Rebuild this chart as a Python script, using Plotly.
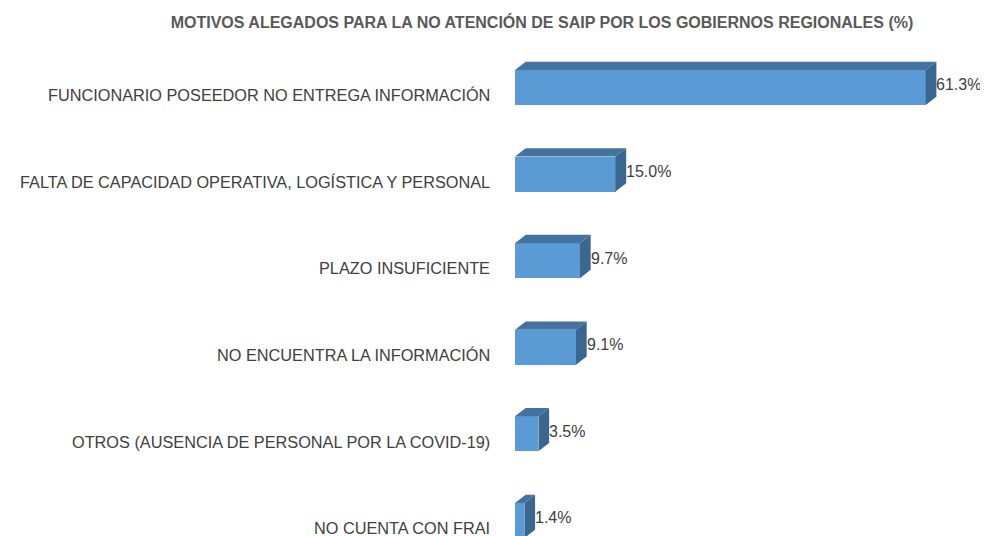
import plotly.graph_objects as go

categories = [
    "FUNCIONARIO POSEEDOR NO ENTREGA INFORMACIÓN",
    "FALTA DE CAPACIDAD OPERATIVA, LOGÍSTICA Y PERSONAL",
    "PLAZO INSUFICIENTE",
    "NO ENCUENTRA LA INFORMACIÓN",
    "OTROS (AUSENCIA DE PERSONAL POR LA COVID-19)",
    "NO CUENTA CON FRAI",
]
values = [61.3, 15.0, 9.7, 9.1, 3.5, 1.4]
value_labels = ["61.3%", "15.0%", "9.7%", "9.1%", "3.5%", "1.4%"]
title = "MOTIVOS ALEGADOS PARA LA NO ATENCIÓN DE SAIP POR LOS GOBIERNOS REGIONALES (%)"

# page has an 8px body margin, so the figure is 8px smaller
W, H = 980, 528
ml, mr, mt, mb = 507, 0, 36, 0
xmax = 70.6
ymin = -0.502
px_x = (W - ml - mr) / xmax
px_y = 86.6
ymax = ymin + (H - mt - mb) / px_y

bar_w = 35 / px_y
dx = 10.7 / px_x
dy = 8.3 / px_y

front_c = "#5B9BD5"
top_c = "#44739F"
side_c = "#3A6790"

fig = go.Figure()
pos = list(range(len(categories)))

for i, v in zip(pos, values):
    y0, y1 = i - bar_w / 2, i + bar_w / 2
    # top face
    fig.add_trace(go.Scatter(
        x=[0, v, v + dx, dx, 0], y=[y0, y0, y0 - dy, y0 - dy, y0],
        fill="toself", fillcolor=top_c, line=dict(width=0), mode="lines",
        hoverinfo="skip", showlegend=False, cliponaxis=False))
    # side face
    fig.add_trace(go.Scatter(
        x=[v, v + dx, v + dx, v, v], y=[y0, y0 - dy, y1 - dy, y1, y0],
        fill="toself", fillcolor=side_c, line=dict(width=0), mode="lines",
        hoverinfo="skip", showlegend=False, cliponaxis=False))

fig.add_trace(go.Bar(
    x=values, y=pos, orientation="h", width=bar_w,
    marker=dict(color=front_c, line=dict(width=0)),
    hoverinfo="x", showlegend=False))

for i, v, t in zip(pos, values, value_labels):
    fig.add_annotation(x=v + dx, y=i - 0.03, text=t, showarrow=False,
                       xanchor="left", yanchor="middle", xshift=-2,
                       font=dict(size=16, color="#404040",
                                 family="Liberation Sans, Arial"))

# category labels, right-aligned left of the plot area
for i, c in zip(pos, categories):
    fig.add_annotation(x=0, xref="paper", y=i + 0.09, text=c, showarrow=False,
                       xanchor="right", yanchor="middle", xshift=-23,
                       font=dict(size=16.3, color="#404040",
                                 family="Liberation Sans, Arial"))

fig.update_layout(
    width=W, height=H,
    margin=dict(l=ml, r=mr, t=mt, b=mb),
    paper_bgcolor="white", plot_bgcolor="white",
    title=dict(text="<b>" + title + "</b>", x=534 / W, xanchor="center",
               y=1 - 14 / H, yanchor="middle",
               font=dict(size=16, color="#595959",
                         family="Liberation Sans, Arial")),
    xaxis=dict(range=[0, xmax], visible=False, fixedrange=True),
    yaxis=dict(range=[ymax, ymin], visible=False, fixedrange=True),
    bargap=0,
)

fig.write_html("out.html")
